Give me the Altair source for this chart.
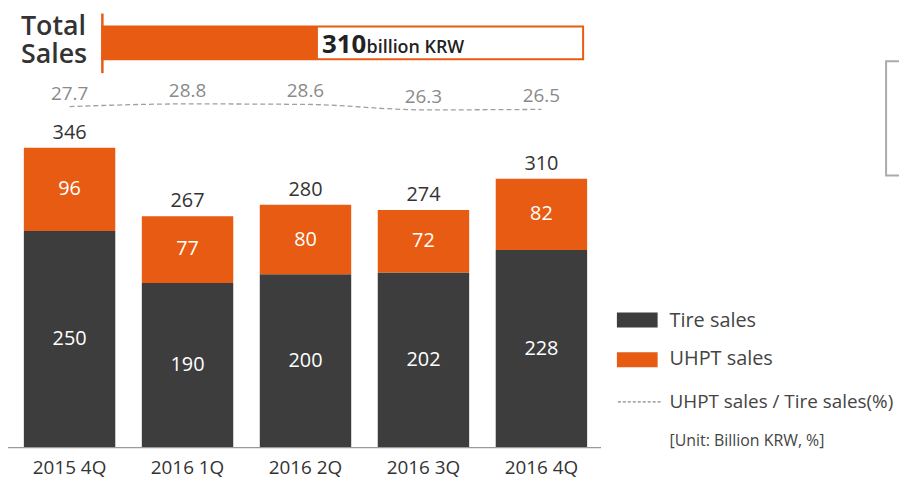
import altair as alt
import pandas as pd

quarters = ["2015 4Q", "2016 1Q", "2016 2Q", "2016 3Q", "2016 4Q"]
tire_sales = [250, 190, 200, 202, 228]
uhpt_sales = [96, 77, 80, 72, 82]
totals = [346, 267, 280, 274, 310]
ratio = [27.7, 28.8, 28.6, 26.3, 26.5]

DARK = "#3d3d3d"
ORANGE = "#e85b12"
FONT = "Open Sans"

rows = []
for q, t, u in zip(quarters, tire_sales, uhpt_sales):
    rows.append({"q": q, "series": "Tire sales", "v0": 0, "v1": t, "mid": t / 2, "val": t})
    rows.append({"q": q, "series": "UHPT sales", "v0": t, "v1": t + u, "mid": t + u / 2, "val": u})
bars_df = pd.DataFrame(rows)
tot_df = pd.DataFrame({"q": quarters, "total": totals})
ratio_df = pd.DataFrame({"q": quarters, "ratio": ratio})
one = pd.DataFrame({"a": [0]})

xscale = alt.Scale(domain=quarters, range=[2.6, 596.4], paddingInner=0.225, paddingOuter=0.1125)
X = alt.X("q:N", scale=xscale, axis=None, sort=quarters)
yscale = alt.Scale(domain=[0, 346], range=[441, 139], nice=False, zero=True)
rscale = alt.Scale(domain=[20, 35], range=[116.1, 80.1], nice=False, zero=False)

bars = alt.Chart(bars_df).mark_bar().encode(
    x=X,
    y=alt.Y("v0:Q", scale=yscale, axis=None),
    y2="v1:Q",
    color=alt.Color("series:N", scale=alt.Scale(domain=["Tire sales", "UHPT sales"], range=[DARK, ORANGE]), legend=None),
)
seg_labels = alt.Chart(bars_df).mark_text(font=FONT, fontSize=20, color="white").encode(
    x=X, y=alt.Y("mid:Q", scale=yscale, axis=None), text="val:Q"
)
tot_labels = alt.Chart(tot_df).mark_text(font=FONT, fontSize=20, color="#333", dy=-15).encode(
    x=X, y=alt.Y("total:Q", scale=yscale, axis=None), text="total:Q"
)
ratio_line = alt.Chart(ratio_df).mark_line(color="#a0a0a0", strokeWidth=1.3, strokeDash=[5, 3], interpolate="monotone").encode(
    x=X, y=alt.Y("ratio:Q", scale=rscale, axis=None)
)
ratio_labels = alt.Chart(ratio_df).mark_text(font=FONT, fontSize=19, color="#8a8a8a", dy=-13).encode(
    x=X, y=alt.Y("ratio:Q", scale=rscale, axis=None), text=alt.Text("ratio:Q", format=".1f")
)
x_labels = alt.Chart(pd.DataFrame({"q": quarters})).mark_text(font=FONT, fontSize=19, color="#333").encode(
    x=X, y=alt.value(462), text="q:N"
)
baseline = alt.Chart(one).mark_rule(color="#9a9a9a", strokeWidth=1.5).encode(
    x=alt.value(0), x2=alt.value(597), y=alt.value(441)
)

# header: total sales
title1 = alt.Chart(one).mark_text(font=FONT, fontSize=27, fontWeight=600, color="#333", align="left").encode(
    x=alt.value(13), y=alt.value(18), text=alt.value("Total")
)
title2 = alt.Chart(one).mark_text(font=FONT, fontSize=27, fontWeight=600, color="#333", align="left").encode(
    x=alt.value(13), y=alt.value(46), text=alt.value("Sales")
)
vline = alt.Chart(one).mark_rule(color=ORANGE, strokeWidth=2.5).encode(
    x=alt.value(95), y=alt.value(4), y2=alt.value(64)
)
box = alt.Chart(one).mark_rect(fill="white", stroke=ORANGE, strokeWidth=2).encode(
    x=alt.value(95), x2=alt.value(579), y=alt.value(17), y2=alt.value(50)
)
box_fill = alt.Chart(one).mark_rect(fill=ORANGE).encode(
    x=alt.value(95), x2=alt.value(312), y=alt.value(17), y2=alt.value(50)
)
box_num = alt.Chart(one).mark_text(font=FONT, fontSize=26, fontWeight="bold", color="#222", align="left", baseline="alphabetic").encode(
    x=alt.value(316), y=alt.value(44), text=alt.value("310")
)
box_unit = alt.Chart(one).mark_text(font=FONT, fontSize=18, fontWeight=600, color="#222", align="left", baseline="alphabetic").encode(
    x=alt.value(361), y=alt.value(44), text=alt.value("billion KRW")
)

# legend
leg_dark = alt.Chart(one).mark_rect(fill=DARK).encode(
    x=alt.value(613), x2=alt.value(654), y=alt.value(305), y2=alt.value(320)
)
leg_orange = alt.Chart(one).mark_rect(fill=ORANGE).encode(
    x=alt.value(613), x2=alt.value(654), y=alt.value(345), y2=alt.value(360)
)
leg_dash = alt.Chart(one).mark_rule(color="#666", strokeWidth=1, strokeDash=[3, 2]).encode(
    x=alt.value(614), x2=alt.value(657), y=alt.value(395)
)
def leg_text(txt, y, size, color="#444"):
    return alt.Chart(one).mark_text(font=FONT, fontSize=size, color=color, align="left").encode(
        x=alt.value(666), y=alt.value(y), text=alt.value(txt)
    )
lt1 = leg_text("Tire sales", 314, 20)
lt2 = leg_text("UHPT sales", 352, 20)
lt3 = leg_text("UHPT sales / Tire sales(%)", 395, 19)
lt4 = leg_text("[Unit: Billion KRW, %]", 434, 16)

side_box = alt.Chart(one).mark_rect(fill="white", stroke="#aaaaaa", strokeWidth=2).encode(
    x=alt.value(884), x2=alt.value(930), y=alt.value(52), y2=alt.value(167)
)

chart = alt.layer(
    bars, seg_labels, tot_labels, ratio_line, ratio_labels, x_labels, baseline,
    title1, title2, box, box_fill, vline, box_num, box_unit,
    leg_dark, leg_orange, leg_dash, lt1, lt2, lt3, lt4, side_box,
).resolve_scale(y="independent").properties(
    width=897, height=471, autosize=alt.AutoSizeParams(type="none"), padding=0
).configure_view(stroke=None)

chart.save("out.html", embed_options={"renderer": "svg", "actions": False})
